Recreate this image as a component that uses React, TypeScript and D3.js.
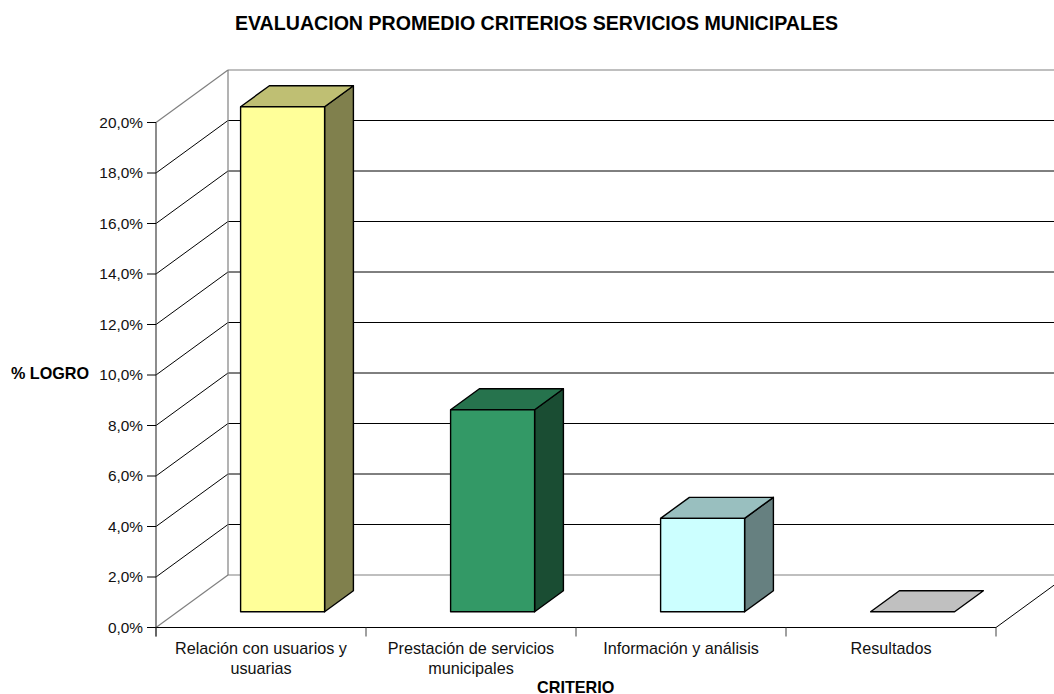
import React from "react";
import * as d3 from "d3";

const title = "EVALUACION PROMEDIO CRITERIOS SERVICIOS MUNICIPALES";
const yTitle = "% LOGRO";
const xTitle = "CRITERIO";
const categories = ["Relación con usuarios y|usuarias", "Prestación de servicios|municipales", "Información y análisis", "Resultados"];
const values = [20.0, 8.0, 3.7, 0];
const tickValues = [0, 2, 4, 6, 8, 10, 12, 14, 16, 18, 20];
const frontColors = ["#FFFF99", "#339966", "#CCFFFF", "#C0C0C0"];
const topColors = ["#BFBF73", "#26734D", "#99BFBF", "#C0C0C0"];
const sideColors = ["#80804D", "#1A4D33", "#668080", "#606060"];

const x0 = 156, x1 = 996, y0 = 627.5, y20 = 122.5;
const depthX = 72, depthY = 52.5;
const W = 1054, H = 694;

const fmt = (v: number) => v.toFixed(1).replace(".", ",") + "%";

export default function App() {
  const y = d3.scaleLinear().domain([0, 20]).range([y0, y20]);
  const x = d3.scaleBand<number>().domain(categories.map((_, i) => i)).range([x0, x1]).paddingInner(0.6).paddingOuter(0.3);
  const band = d3.scaleBand<number>().domain(categories.map((_, i) => i)).range([x0, x1]);
  const font = "'Liberation Sans', Arial, sans-serif";
  const line = d3.line<[number, number]>();
  const poly = (pts: [number, number][]) => line(pts) + "Z";
  const dFront = 0.3, dBack = 0.7;
  return (
    <svg width={W} height={H} viewBox={`0 0 ${W} ${H}`} style={{ position: "absolute", left: 0, top: 0, background: "#fff" }} fontFamily={font}>
      {tickValues.map((t) => {
        const g = t === 0 || t === 20;
        return (
          <g key={t} stroke={g ? "#808080" : "#000"} strokeWidth={g ? 1.2 : 1} fill="none">
            <line x1={x0 + depthX} x2={W} y1={y(t) - depthY} y2={y(t) - depthY} />
            <line x1={x0} y1={y(t)} x2={x0 + depthX} y2={y(t) - depthY} />
          </g>
        );
      })}
      <line x1={x0 + depthX} x2={x0 + depthX} y1={y(20) - depthY} y2={y(0) - depthY} stroke="#808080" strokeWidth={1.2} />
      <line x1={x1} y1={y0} x2={x1 + depthX} y2={y0 - depthY} stroke="#000" strokeWidth={1} />

      {categories.map((c, i) => {
        const l = x(i)! + depthX * dFront, r = l + x.bandwidth();
        const b = y0 - depthY * dFront, t = b - (y(0) - y(values[i]));
        const dx = depthX * (dBack - dFront), dy = depthY * (dBack - dFront);
        const st = { stroke: "#000", strokeWidth: 1.4, strokeLinejoin: "round" as const };
        return (
          <g key={c}>
            {values[i] > 0 && <path d={poly([[r, t], [r + dx, t - dy], [r + dx, b - dy], [r, b]])} fill={sideColors[i]} {...st} />}
            <path d={poly([[l, t], [l + dx, t - dy], [r + dx, t - dy], [r, t]])} fill={topColors[i]} {...st} />
            {values[i] > 0 && <rect x={l} y={t} width={r - l} height={b - t} fill={frontColors[i]} {...st} />}
          </g>
        );
      })}

      <line x1={x0} x2={x0} y1={y(20)} y2={y0 + 9} stroke="#404040" strokeWidth={1.2} />
      <line x1={x0 - 9} x2={x1} y1={y0} y2={y0} stroke="#000" strokeWidth={1.2} />
      {tickValues.map((t) => (
        <g key={t}>
          <line x1={x0 - 9} x2={x0} y1={y(t)} y2={y(t)} stroke="#000" strokeWidth={1} />
          <text x={143} y={y(t) + 5} textAnchor="end" fontSize={15.4} fill="#111">{fmt(t)}</text>
        </g>
      ))}
      {categories.map((c, i) => (
        <line key={c} x1={band(i)!} x2={band(i)!} y1={y0} y2={y0 + 9} stroke="#404040" />
      ))}
      <line x1={x1} x2={x1} y1={y0} y2={y0 + 9} stroke="#404040" />
      {categories.map((c, i) => (
        <text key={c} textAnchor="middle" fontSize={16.2} fill="#111">
          {c.split("|").map((s, j) => (
            <tspan key={j} x={band(i)! + band.bandwidth() / 2} y={653.5 + j * 20.5}>{s}</tspan>
          ))}
        </text>
      ))}
      <text x={536.5} y={30} textAnchor="middle" fontSize={19.6} fontWeight="bold" fill="#000">{title}</text>
      <text x={50} y={379} textAnchor="middle" fontSize={16.2} fontWeight="bold" fill="#000">{yTitle}</text>
      <text x={575.7} y={692.5} textAnchor="middle" fontSize={16.2} fontWeight="bold" fill="#000">{xTitle}</text>
    </svg>
  );
}
